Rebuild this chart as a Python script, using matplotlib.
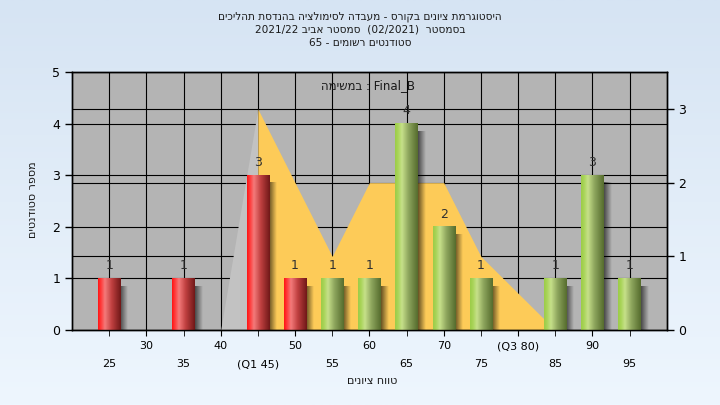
import numpy as np
import matplotlib.pyplot as plt
from matplotlib.colors import LinearSegmentedColormap


def heb(s):
    # matplotlib has no bidi support, so Hebrew runs are written in visual order
    return s[::-1]


### Data
grades = [25, 35, 45, 50, 55, 60, 65, 70, 75, 85, 90, 95]
counts = [1, 1, 3, 1, 1, 1, 4, 2, 1, 1, 3, 1]
pass_grade = 55

area_x = [40, 45, 50, 55, 60, 65, 70, 75, 80, 85]
area_y = [0, 3, 2, 1, 2, 2, 2, 1, 0.5, 0]

row1_ticks = [30, 40, 50, 60, 70, 80, 90]
row1_labels = ['30', '40', '50', '60', '70', '(Q3 80)', '90']
row2_ticks = [25, 35, 45, 55, 65, 75, 85, 95]
row2_labels = ['25', '35', '(Q1 45)', '55', '65', '75', '85', '95']

title_lines = [
    heb('היסטוגרמת ציונים בקורס - מעבדה לסימולציה בהנדסת תהליכים'),
    '2021/22 ' + heb('סמסטר אביב') + '  (02/2021)  ' + heb('בסמסטר'),
    '65 - ' + heb('סטודנטים רשומים'),
]
ylabel = heb('מספר סטודנטים')
xlabel = heb('טווח ציונים')
note = heb('במשימה') + ' : Final_B'

plt.rcParams['font.family'] = ['DejaVu Sans']

fig = plt.figure(figsize=(7.2, 4.05), dpi=100)

### Background gradient
bg = fig.add_axes([0, 0, 1, 1], zorder=-10)
bg_cmap = LinearSegmentedColormap.from_list('bg', ['#d6e4f3', '#eef6fe'])
bg.imshow(np.linspace(0, 1, 256).reshape(-1, 1), cmap=bg_cmap, aspect='auto',
          extent=[0, 1, 0, 1])
bg.axis('off')

ax = fig.add_axes([0.1, 0.185, 0.826, 0.637])
ax.set_facecolor('#b4b4b4')
ax2 = ax.twinx()
ax2.set_ylim(0, 3.5)

### Grid
ax.set_axisbelow(True)
ax.grid(axis='y', color='black', lw=0.8)
ax.grid(axis='x', which='both', color='black', lw=0.8)
ax.hlines([1, 2, 3], 20, 100, transform=ax2.transData, colors='black', lw=0.8, zorder=0.6)

### Area (right axis)
ax.fill_between(area_x[:2], area_y[:2], color='#c2c2c2', lw=0, zorder=1,
                transform=ax2.transData)
ax.fill_between(area_x[1:], area_y[1:], color='#fdcb58', lw=0, zorder=1,
                transform=ax2.transData)

### Bars with cylinder shading
red_cmap = LinearSegmentedColormap.from_list('r', [(0, '#ff1414'), (0.12, '#ff3a3a'),
                                                   (0.3, '#f47a7a'), (0.6, '#c04040'),
                                                   (1, '#701818')])
green_cmap = LinearSegmentedColormap.from_list('g', [(0, '#9ccc48'), (0.12, '#a8d458'),
                                                     (0.3, '#c6e08a'), (0.6, '#8ca45c'),
                                                     (1, '#566c2e')])
grad = np.linspace(0, 1, 64).reshape(1, -1)
shadow = np.zeros((1, 32, 4))
shadow[..., 3] = np.linspace(0.6, 0, 32)
bw = 3
for g, c in zip(grades, counts):
    cmap = red_cmap if g < pass_grade else green_cmap
    ax.imshow(shadow, extent=[g + bw / 2, g + bw / 2 + 1.0, -0.1, c - 0.15],
              aspect='auto', zorder=2, interpolation='bilinear')
    ax.imshow(grad, cmap=cmap, extent=[g - bw / 2, g + bw / 2, 0, c],
              aspect='auto', zorder=3, interpolation='bilinear')
    ax.text(g, c + 0.12, str(c), ha='center', va='bottom', fontsize=9,
            color='#303030', zorder=4)

ax.set_xlim(20, 100)
ax.set_ylim(0, 5)
ax2.set_ylim(0, 3.5)

### Ticks
ax.set_xticks(row1_ticks)
ax.set_xticklabels(row1_labels)
ax.set_xticks(row2_ticks, minor=True)
ax.set_xticklabels(row2_labels, minor=True)
ax.tick_params(axis='x', which='major', length=4, pad=4, labelsize=8)
ax.tick_params(axis='x', which='minor', length=4, pad=17, labelsize=8)
ax.set_yticks([0, 1, 2, 3, 4, 5])
ax.tick_params(axis='y', length=5, width=1, labelsize=9)
ax2.set_yticks([0, 1, 2, 3])
ax2.tick_params(axis='y', length=5, width=1, labelsize=9)
for a in (ax, ax2):
    for s in a.spines.values():
        s.set_color('black')
        s.set_linewidth(1)

### Texts
for i, line in enumerate(title_lines):
    fig.text(0.5, 0.958 - i * 0.032, line, ha='center', va='center', fontsize=7.6,
             color='#1a1a1a')
fig.text(33 / 720, 1 - 200 / 405, ylabel, rotation=90, ha='center', va='center',
         fontsize=8, color='#1a1a1a')
fig.text(372 / 720, 1 - 381 / 405, xlabel, ha='center', va='center', fontsize=8,
         color='#1a1a1a')
fig.text(368 / 720, 1 - 86 / 405, note, ha='center', va='center', fontsize=8.5,
         color='#1a1a1a')

plt.savefig('out.png', dpi=100)
